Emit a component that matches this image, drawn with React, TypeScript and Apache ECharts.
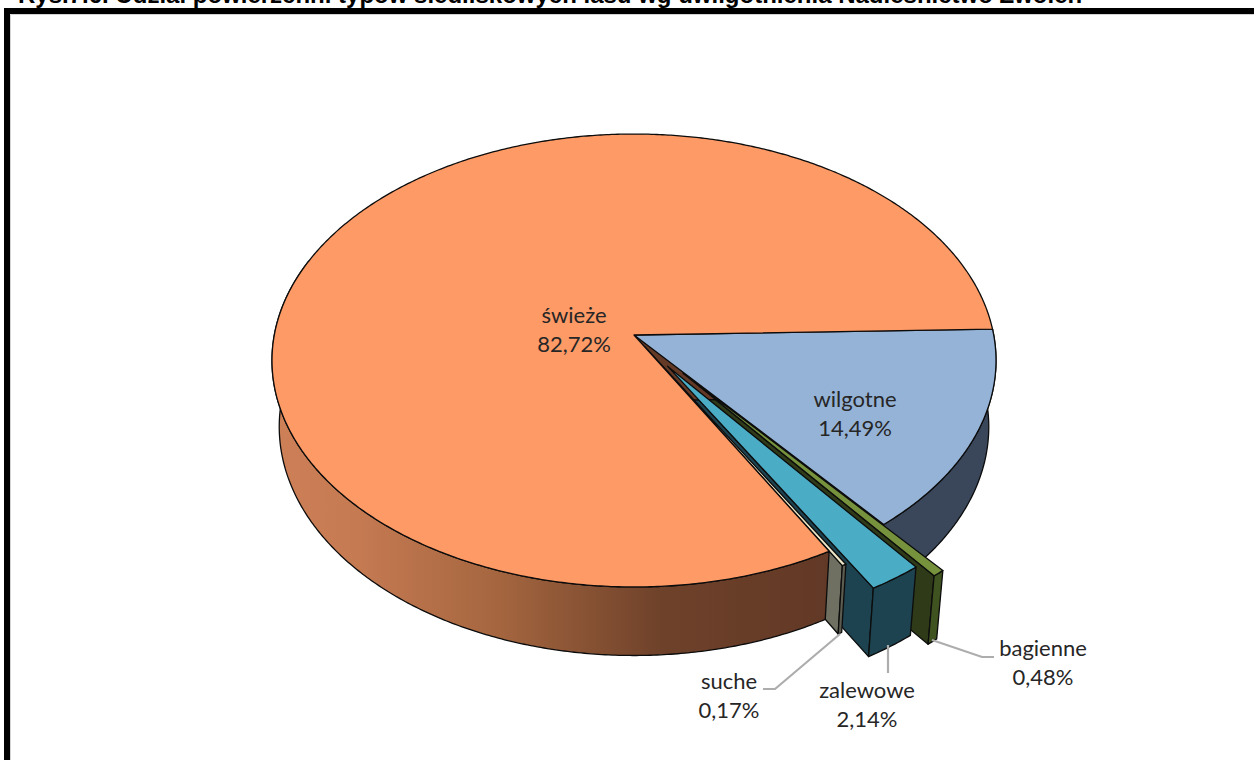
import React, { useEffect, useRef } from "react";
import * as echarts from "echarts";

const categories = ["wilgotne", "bagienne", "zalewowe", "suche", "świeże"];
const shares = [14.49, 0.48, 2.14, 0.17, 82.72];
const explodes = [0, 0.215, 0.165, 0.06, 0];
const topColors = ["#95B3D7", "#76923C", "#4BACC6", "#EEE8C8", "#FD9A66"];
const radialColors = ["#3A475A", "#2F3A18", "#1D4350", "#6F7062", "#643A27"];
const arcColors = ["#3A475A", "#3F5320", "#1D4350", "#5C5C50", "#643A27"];
const titleText = "Rys.7.6. Udział powierzchni typów siedliskowych lasu wg uwilgotnienia Nadleśnictwo Zwoleń";

const START_DEG = -1.5;
const APEX_X = 634;
const APEX_Y = 335;
const PERSPECTIVE = 0.1126;
const SCALE_X = 359.7;
const SCALE_Y = 223.6;
const DEPTH = 66;

const labelPlaces = [
  { x: 855, y: 413 },
  { x: 1043, y: 662 },
  { x: 867, y: 704 },
  { x: 729, y: 695 },
  { x: 574, y: 329 },
];
const leaders = [
  [[932, 640], [982, 657], [994, 657]],
  [[888, 645], [888, 673]],
  [[840, 634], [775, 689], [763, 689]],
];

const rad = (d: number) => (d * Math.PI) / 180;

function project(u: number, v: number, low: boolean): number[] {
  const w = 1 - PERSPECTIVE * v;
  const X = (SCALE_X * u) / w;
  const Y = (SCALE_Y * v) / w;
  return low ? [APEX_X + X * 0.98, APEX_Y + Y * 1.01 + DEPTH] : [APEX_X + X, APEX_Y + Y];
}

function sliceAngles(index: number) {
  let cum = 0;
  for (let i = 0; i < index; i++) cum += shares[i];
  const a0 = START_DEG + (cum * 360) / 100;
  const a1 = a0 + (shares[index] * 360) / 100;
  return [a0, a1];
}

function offsetOf(index: number, a0: number, a1: number) {
  const mid = rad((a0 + a1) / 2);
  return [explodes[index] * Math.cos(mid), explodes[index] * Math.sin(mid)];
}

function rimPoints(a0: number, a1: number, ou: number, ov: number, low: boolean) {
  const pts: number[][] = [];
  const n = Math.max(2, Math.ceil((a1 - a0) / 0.5));
  for (let k = 0; k <= n; k++) {
    const t = rad(a0 + ((a1 - a0) * k) / n);
    pts.push(project(ou + Math.cos(t), ov + Math.sin(t), low));
  }
  return pts;
}

const edge = { stroke: "#0c0c0c", lineWidth: 1.3, lineJoin: "round" };

function renderWalls(params: any) {
  const i = params.dataIndex;
  const [a0, a1] = sliceAngles(i);
  const [ou, ov] = offsetOf(i, a0, a1);
  const e1 = rad(a1);
  const radial = [
    project(ou, ov, false),
    project(ou + Math.cos(e1), ov + Math.sin(e1), false),
    project(ou + Math.cos(e1), ov + Math.sin(e1), true),
    project(ou, ov, true),
  ];
  const arcEnd = Math.min(a1, 200);
  const top = rimPoints(a0, arcEnd, ou, ov, false);
  const bottom = rimPoints(a0, arcEnd, ou, ov, true).reverse();
  const isBig = shares[i] > 50;
  const arcFill: any = isBig
    ? {
        type: "linear",
        x: 275,
        y: 0,
        x2: 830,
        y2: 0,
        global: true,
        colorStops: [
          { offset: 0, color: "#CE8057" },
          { offset: 0.15, color: "#C57A52" },
          { offset: 0.4, color: "#A5663F" },
          { offset: 0.7, color: "#6E412A" },
          { offset: 1, color: "#623926" },
        ],
      }
    : arcColors[i];
  return {
    type: "group",
    children: [
      { type: "polygon", shape: { points: radial }, style: { fill: radialColors[i], ...edge } },
      { type: "polygon", shape: { points: top.concat(bottom) }, style: { fill: arcFill, ...edge } },
    ],
  };
}

function renderTops(params: any) {
  const i = params.dataIndex;
  const [a0, a1] = sliceAngles(i);
  const [ou, ov] = offsetOf(i, a0, a1);
  const pts = [project(ou, ov, false)].concat(rimPoints(a0, a1, ou, ov, false));
  return {
    type: "polygon",
    shape: { points: pts },
    style: { fill: topColors[i], ...edge },
  };
}

const pctLabel = (v: number) => v.toFixed(2).replace(".", ",") + "%";

export default function App() {
  const ref = useRef<HTMLDivElement>(null);
  useEffect(() => {
    document.body.style.margin = "0";
    const chart = echarts.init(ref.current!, undefined, { renderer: "svg" });
    const data = shares.map((v, i) => ({ name: categories[i], value: v }));
    chart.setOption({
      animation: false,
      backgroundColor: "#fff",
      series: [
        { type: "custom", coordinateSystem: "none", renderItem: renderWalls, data, z: 1, silent: true },
        { type: "custom", coordinateSystem: "none", renderItem: renderTops, data, z: 2, silent: true },
      ],
      graphic: [
        {
          type: "text",
          x: 18,
          y: 6,
          z: 5,
          silent: true,
          style: {
            text: titleText,
            font: "bold 24px 'Liberation Sans', Arial, sans-serif",
            fill: "#000",
            verticalAlign: "bottom",
          },
        },
        {
          type: "rect",
          z: 5,
          silent: true,
          shape: { x: 10.5, y: 14.5, width: 1300, height: 800 },
          style: { fill: "none", stroke: "#d4d4d4", lineWidth: 1 },
        },
        {
          type: "rect",
          z: 5,
          silent: true,
          shape: { x: 7, y: 11, width: 1300, height: 800 },
          style: { fill: "none", stroke: "#000", lineWidth: 6 },
        },
        ...leaders.map((pts) => ({
          type: "polyline",
          z: 4,
          silent: true,
          shape: { points: pts },
          style: { fill: "none", stroke: "#ADADAD", lineWidth: 2.2 },
        })),
        ...categories.map((c, i) => ({
          type: "text",
          z: 6,
          silent: true,
          x: labelPlaces[i].x,
          y: labelPlaces[i].y,
          style: {
            text: c + "\n" + pctLabel(shares[i]),
            font: "22px Lato, 'Open Sans', sans-serif",
            lineHeight: 29,
            fill: "#262626",
            align: "center",
            verticalAlign: "middle",
          },
        })),
      ],
    });
    return () => chart.dispose();
  }, []);
  return <div ref={ref} style={{ width: 1254, height: 760 }} />;
}
